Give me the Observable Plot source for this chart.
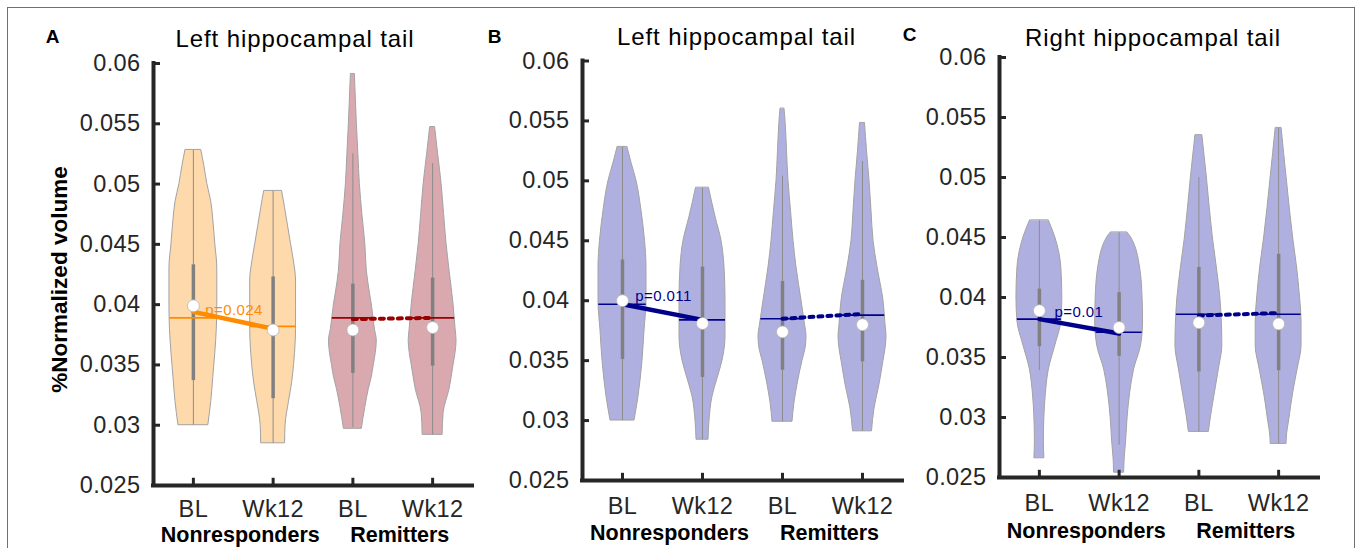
<!DOCTYPE html>
<html><head><meta charset="utf-8">
<script src="https://cdn.jsdelivr.net/npm/d3@7"></script>
<script src="https://cdn.jsdelivr.net/npm/@observablehq/plot@0.6"></script>
<style>
html,body{margin:0;padding:0;background:#fff;overflow:hidden;}
#wrap{position:relative;width:1357px;height:548px;overflow:hidden;font-family:"Liberation Sans",Arial,sans-serif;background:#fff;}
#frame{position:absolute;left:7px;top:7px;width:1348px;height:600px;border:1.5px solid #707070;box-sizing:border-box;}
#wrap svg{position:absolute;left:0;top:0;}
</style></head><body><div id="wrap"><div id="frame"></div></div>
<script>
// ---------- shared labels ----------
const yTicks = [0.025, 0.03, 0.035, 0.04, 0.045, 0.05, 0.055, 0.06];
const xPositions = [1, 2, 3, 4];
const tickLabels = ["BL", "Wk12", "BL", "Wk12"];
const groupLabels = ["Nonresponders", "Remitters"];
const groupCenters = [1.5, 3.5];
const titles = ["Left hippocampal tail", "Left hippocampal tail", "Right hippocampal tail"];
const letters = ["A", "B", "C"];
const yLabel = "%Normalized volume";
const pLabels = ["p=0.024", "p=0.011", "p=0.01"];

// ---------- Panel A: violin density profiles [value, relative width] ----------
const densityA = [
  [[0.0528,8],[0.0515,11],[0.050,14],[0.0485,18],[0.047,20],[0.045,22],[0.043,24],[0.040,24],[0.038,23.5],[0.036,22],[0.034,20],[0.032,18],[0.030,15]],
  [[0.0494,9],[0.048,12],[0.0465,15],[0.045,18],[0.0435,21],[0.042,23],[0.040,23],[0.038,23],[0.036,22],[0.035,21],[0.0335,19],[0.032,16],[0.030,12.5],[0.0285,12]],
  [[0.0591,2],[0.057,3],[0.055,4],[0.0525,5.5],[0.050,7],[0.0475,9.5],[0.045,12.5],[0.0428,14],[0.041,17],[0.040,19],[0.038,22],[0.037,24],[0.036,23],[0.035,21],[0.034,19],[0.033,16],[0.0315,12.5],[0.0297,9]],
  [[0.0547,2.5],[0.0525,5.5],[0.050,9],[0.0475,11.5],[0.045,14],[0.0428,17],[0.040,21],[0.038,23],[0.037,24],[0.036,23],[0.035,21],[0.033,17],[0.031,11],[0.0292,10]]
];
const lowA = [0.0300, 0.0285, 0.0298, 0.0292];
const highA = [0.0528, 0.0494, 0.0525, 0.0517];
const q1A = [0.0337, 0.0322, 0.0343, 0.0349];
const q3A = [0.0433, 0.0423, 0.0417, 0.0422];
const medianA = [0.0399, 0.0379, 0.0379, 0.0381];
const meanA = [0.0389, 0.0382, 0.0389, 0.0389];
const nrTrendA = [0.0394, 0.0380];
const remTrendA = [0.0388, 0.0389];
const pAtA = [1.15, 0.0395];

// ---------- Panel B ----------
const densityB = [
  [[0.0528,5],[0.0515,9],[0.050,14],[0.0475,19],[0.045,22.5],[0.0428,24],[0.040,24],[0.0375,22],[0.035,20],[0.032,16],[0.030,12]],
  [[0.0494,6.5],[0.047,13],[0.045,19],[0.0428,22],[0.040,23],[0.037,23],[0.035,20],[0.0335,15],[0.032,10],[0.030,7],[0.0284,6]],
  [[0.056,2],[0.055,3],[0.0525,4.5],[0.050,6],[0.0475,8.5],[0.045,11],[0.0428,14],[0.040,19],[0.038,22.5],[0.037,24],[0.036,23],[0.035,20],[0.033,15],[0.0315,12],[0.0299,10]],
  [[0.0548,2.5],[0.0525,4.5],[0.050,7],[0.0475,9],[0.045,11],[0.0428,15],[0.040,21],[0.038,23],[0.037,24],[0.036,23],[0.035,21],[0.033,17],[0.031,12],[0.0291,9.5]]
];
const lowB = [0.0300, 0.0284, 0.0299, 0.0291];
const highB = [0.0528, 0.0494, 0.0504, 0.0516];
const q1B = [0.0351, 0.0336, 0.0342, 0.0349];
const q3B = [0.0434, 0.0428, 0.0416, 0.0417];
const medianB = [0.0400, 0.0381, 0.0374, 0.0380];
const meanB = [0.0397, 0.0384, 0.0385, 0.0388];
const nrTrendB = [0.0397, 0.0384];
const remTrendB = [0.0385, 0.0389];
const pAtB = [1.16, 0.0404];

// ---------- Panel C ----------
const densityC = [
  [[0.0464,9.5],[0.045,16],[0.0425,22],[0.040,23],[0.038,22],[0.036,16],[0.034,9.5],[0.032,6.5],[0.030,5],[0.028,4.5],[0.0266,5]],
  [[0.0454,8.5],[0.045,12],[0.0425,21],[0.040,23.5],[0.038,24],[0.036,22],[0.034,15],[0.032,11],[0.030,8.5],[0.028,7],[0.0265,5.5],[0.0254,5]],
  [[0.0535,3.5],[0.050,8],[0.045,14],[0.0425,18],[0.040,21.5],[0.038,23],[0.036,23.5],[0.034,20],[0.032,16],[0.030,12],[0.0288,10]],
  [[0.0541,3],[0.050,8],[0.045,14.5],[0.0425,18.5],[0.040,21.5],[0.038,23],[0.036,23],[0.034,19],[0.032,14.5],[0.030,11],[0.028,8],[0.0278,8]]
];
const lowC = [0.0339, 0.0277, 0.0288, 0.0278];
const highC = [0.0464, 0.0454, 0.0500, 0.0541];
const q1C = [0.0359, 0.0351, 0.0338, 0.0339];
const q3C = [0.0407, 0.0404, 0.0425, 0.0436];
const medianC = [0.0389, 0.0375, 0.0379, 0.0378];
const meanC = [0.0382, 0.0371, 0.0386, 0.0386];
const nrTrendC = [0.0382, 0.0370];
const remTrendC = [0.0385, 0.0387];
const pAtC = [1.19, 0.0388];

// ---------- styling ----------
const orangeFill = "#FDD9AC", pinkFill = "#D9A9AF", blueFill = "#B0B0E0";
const orange = "#FF8C00", darkRed = "#990000", navy = "#00008B";
const axisColor = "#262626";
const FONT = "'Liberation Sans', Arial, Helvetica, sans-serif";

function interpW(prof, v) {
  for (let i = 0; i < prof.length - 1; i++) {
    const [v0, w0] = prof[i], [v1, w1] = prof[i + 1];
    if (v <= v0 && v >= v1) { const t = (v0 - v) / (v0 - v1); return w0 + (w1 - w0) * t; }
  }
  return prof[prof.length - 1][1];
}

function panel(P) {
  const k = 1 / 80; // density unit -> x units
  const marks = [];
  P.density.forEach((prof, i) => {
    const cx = xPositions[i];
    marks.push(Plot.areaX(prof, {
      y: d => d[0], x1: d => cx - d[1] * k, x2: d => cx + d[1] * k,
      fill: P.fills[i], stroke: "#a3a3a3", strokeWidth: 1, curve: "monotone-y"
    }));
  });
  xPositions.forEach((cx, i) => {
    marks.push(Plot.ruleX([cx], {y1: P.low[i], y2: P.high[i], stroke: "#8c8c8c", strokeWidth: 1}));
    marks.push(Plot.ruleX([cx], {y1: P.q1[i], y2: P.q3[i], stroke: "#808080", strokeWidth: 3.5}));
    const hw = interpW(P.density[i], P.mean[i]) * k;
    marks.push(Plot.ruleY([P.mean[i]], {x1: cx - hw, x2: cx + hw, stroke: P.meanColors[i], strokeWidth: 1.6}));
  });
  // trend lines between time points
  marks.push(Plot.line([[xPositions[0], P.nrTrend[0]], [xPositions[1], P.nrTrend[1]]],
    {x: d => d[0], y: d => d[1], stroke: P.meanColors[0], strokeWidth: 4.5}));
  marks.push(Plot.line([[xPositions[2], P.remTrend[0]], [xPositions[3], P.remTrend[1]]],
    {x: d => d[0], y: d => d[1], stroke: P.meanColors[2], strokeWidth: 4, strokeDasharray: "4,5"}));
  // medians
  marks.push(Plot.dot(xPositions, {x: d => d, y: (d, i) => P.median[i], r: 6, fill: "white", stroke: "#b5b5b5", strokeWidth: 0.8}));
  // p label
  marks.push(Plot.text([P.pLabel], {x: P.pAt[0], y: P.pAt[1], text: d => d, textAnchor: "start", fill: P.meanColors[0], fontSize: 15}));
  // axes
  marks.push(Plot.ruleX([0.5], {stroke: axisColor, strokeWidth: 4, strokeLinecap: "square"}));
  marks.push(Plot.ruleY([0.025], {stroke: axisColor, strokeWidth: 4, strokeLinecap: "square"}));
  marks.push(Plot.ruleY(yTicks, {x1: 0.5, x2: 0.5 + 7 / 80, stroke: axisColor, strokeWidth: 3}));
  marks.push(Plot.ruleX(xPositions, {y1: 0.025, y2: 0.025 + 0.0006, stroke: axisColor, strokeWidth: 3}));
  marks.push(Plot.text(yTicks, {x: 0.5, y: d => d, text: d => String(d), textAnchor: "end", dx: -13, fontSize: 23.5, fill: axisColor}));
  marks.push(Plot.text(xPositions, {x: d => d, y: 0.025, text: (d, i) => tickLabels[i], dy: P.tickDy, fontSize: 23.5, fill: axisColor}));
  marks.push(Plot.text(groupCenters, {x: d => d, y: 0.025, text: (d, i) => groupLabels[i], dy: P.groupDy, dx: 7, fontSize: 21.5, fontWeight: "bold", fill: "black"}));
  marks.push(Plot.text([P.title], {frameAnchor: "top", text: d => d, dy: P.titleDy, dx: P.titleDx, fontSize: 24, lineAnchor: "middle", fill: "black"}));
  marks.push(Plot.text([P.letter], {frameAnchor: "top-left", text: d => d, dx: P.letterDx, dy: P.letterDy, fontSize: 19, fontWeight: "bold", textAnchor: "middle", lineAnchor: "middle", fill: "black"}));
  if (P.yLabel) marks.push(Plot.text([P.yLabel], {frameAnchor: "left", text: d => d, rotate: -90, dx: -94, dy: 5, fontSize: 22.5, fontWeight: "bold", textAnchor: "middle", lineAnchor: "middle", fill: "black"}));

  const svg = Plot.plot({
    width: 1357, height: 548,
    marginLeft: P.m[0], marginRight: P.m[1], marginTop: P.m[2], marginBottom: P.m[3],
    x: {domain: [0.5, 4.5], axis: null},
    y: {domain: [0.025, 0.06], axis: null},
    style: {background: "transparent", fontFamily: FONT, letterSpacing: "0.4px", overflow: "visible"},
    marks
  });
  svg.querySelectorAll('[font-weight="bold"]').forEach(g => g.setAttribute("letter-spacing", "0"));
  svg.querySelectorAll('[font-size="24"]').forEach(g => g.setAttribute("letter-spacing", "0.9"));
  return svg;
}

const wrap = document.getElementById("wrap");
wrap.appendChild(panel({
  density: densityA, low: lowA, high: highA, q1: q1A, q3: q3A, median: medianA, mean: meanA,
  nrTrend: nrTrendA, remTrend: remTrendA, pAt: pAtA, pLabel: pLabels[0],
  fills: [orangeFill, orangeFill, pinkFill, pinkFill], meanColors: [orange, orange, darkRed, darkRed],
  title: titles[0], letter: letters[0], yLabel: yLabel,
  m: [153, 885, 63, 63], tickDy: 24, groupDy: 50, titleDy: -24, titleDx: -18, letterDx: -101, letterDy: -27
}));
wrap.appendChild(panel({
  density: densityB, low: lowB, high: highB, q1: q1B, q3: q3B, median: medianB, mean: meanB,
  nrTrend: nrTrendB, remTrend: remTrendB, pAt: pAtB, pLabel: pLabels[1],
  fills: [blueFill, blueFill, blueFill, blueFill], meanColors: [navy, navy, navy, navy],
  title: titles[1], letter: letters[1], yLabel: null,
  m: [582, 455, 60.5, 68], tickDy: 25.5, groupDy: 53, titleDy: -24, titleDx: -6, letterDx: -88, letterDy: -24.5
}));
wrap.appendChild(panel({
  density: densityC, low: lowC, high: highC, q1: q1C, q3: q3C, median: medianC, mean: meanC,
  nrTrend: nrTrendC, remTrend: remTrendC, pAt: pAtC, pLabel: pLabels[2],
  fills: [blueFill, blueFill, blueFill, blueFill], meanColors: [navy, navy, navy, navy],
  title: titles[2], letter: letters[2], yLabel: null,
  m: [999, 39, 57, 71], tickDy: 26, groupDy: 54, titleDy: -19.5, titleDx: -6, letterDx: -90, letterDy: -22.5
}));
</script></body></html>
